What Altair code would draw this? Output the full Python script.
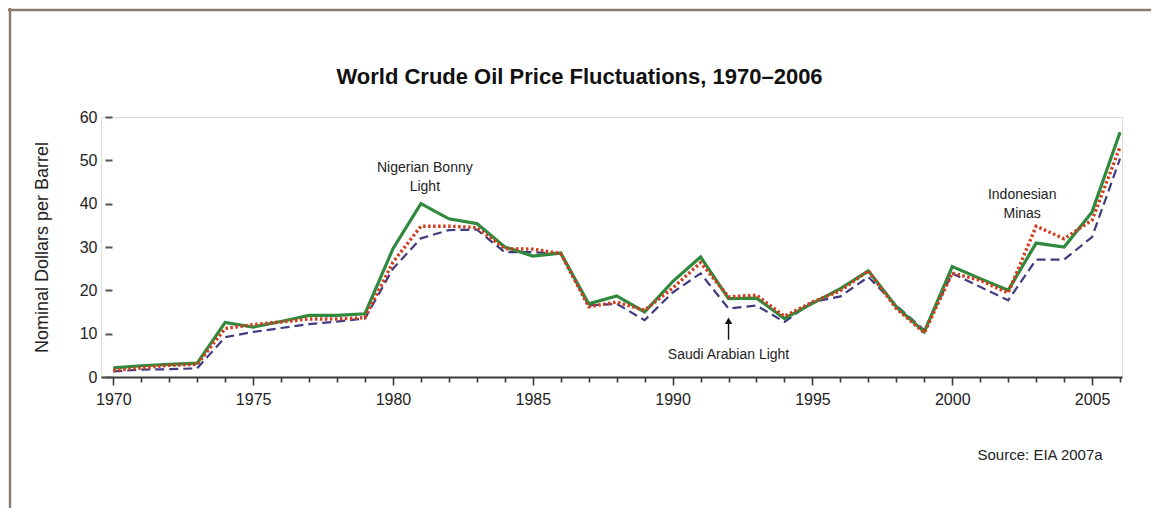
import altair as alt
import pandas as pd

years = list(range(1970, 2007))
nigerian_bonny = [2.1, 2.6, 2.9, 3.2, 12.6, 11.5, 12.8, 14.2, 14.2, 14.6,
                  29.6, 40.0, 36.5, 35.4, 30.0, 27.9, 28.6, 16.9, 18.7, 15.0,
                  22.0, 27.7, 18.1, 18.2, 13.5, 17.0, 20.4, 24.5, 16.2, 10.4,
                  25.5, 22.7, 20.0, 30.9, 30.0, 38.1, 56.5]
indonesian_minas = [1.5, 2.1, 2.7, 2.9, 11.2, 12.1, 12.7, 13.4, 13.4, 13.7,
                    26.5, 34.8, 34.8, 34.5, 29.6, 29.5, 28.5, 16.2, 17.3, 15.4,
                    20.5, 26.4, 18.5, 18.9, 14.0, 17.3, 19.9, 24.5, 15.8, 10.2,
                    24.0, 22.3, 19.4, 34.8, 31.9, 36.2, 53.1]
saudi_light = [1.3, 1.7, 1.8, 2.0, 9.2, 10.4, 11.3, 12.2, 12.8, 13.5,
               25.0, 32.0, 33.9, 34.0, 28.8, 28.8, 28.5, 16.5, 16.9, 13.1,
               19.5, 23.9, 15.8, 16.5, 12.7, 17.3, 18.6, 23.1, 16.5, 10.8,
               23.9, 20.8, 17.7, 27.1, 27.1, 32.3, 50.4]

title_text = ["World Crude Oil Price Fluctuations, 1970–2006"]

ann_text = ["Nigerian Bonny", "Light", "Indonesian", "Minas", "Saudi Arabian Light"]
ann_year = [1981.14, 1981.14, 2002.5, 2002.5, 1992.0]
ann_value = [48.2, 43.8, 41.9, 37.7, 5.0]

source_text = ["Source: EIA 2007a"]
source_year = [2003.14]
source_value = [-18.1]

arrow_year = [1992.0]
arrow_from = [8.6]
arrow_to = [13.0]

SANS = "Liberation Sans, Arial, Helvetica, sans-serif"

df = pd.DataFrame({
    "year": years * 3,
    "price": saudi_light + nigerian_bonny + indonesian_minas,
    "series": ["Saudi Arabian Light"] * len(years) + ["Nigerian Bonny Light"] * len(years)
              + ["Indonesian Minas"] * len(years),
})

xscale = alt.Scale(domain=[1969.56, 2006.07], nice=False, zero=False)
yscale = alt.Scale(domain=[0, 60], nice=False)

x_axis = alt.Axis(
    values=years, title=None, grid=False, labelOverlap=False,
    labelExpr="datum.value % 5 === 0 ? '' + datum.value : ''",
    tickSize={"condition": {"test": "datum.value % 5 === 0", "value": 8}, "value": 5},
    tickWidth=1.6, tickColor="#3a3a3a", domainColor="#3a3a3a", domainWidth=2,
    labelFont=SANS, labelFontSize=16, labelColor="#222222", labelPadding=6,
    labelFlush=False, labelBound=False,
)
y_axis = alt.Axis(
    values=[0, 10, 20, 30, 40, 50, 60], title="Nominal Dollars per Barrel", grid=False,
    domain=False, offset=-11, tickSize=7, tickWidth=2, tickColor="#555555",
    labelFont=SANS, labelFontSize=16, labelColor="#222222", labelPadding=8,
    labelOverlap=False,
    titleFont=SANS, titleFontSize=18, titleFontWeight="normal", titleColor="#222222",
    titleX=-65, titleY=130, titleAngle=270, titleBaseline="alphabetic", titleAlign="center",
)

def X(field):
    return alt.X(field, type="quantitative", scale=xscale, axis=x_axis)

def Y(field):
    return alt.Y(field, type="quantitative", scale=yscale, axis=y_axis)

base = alt.Chart(df)

def series_line(name, color, width, dash):
    kw = dict(color=color, strokeWidth=width, strokeJoin="miter")
    if dash:
        kw["strokeDash"] = dash
    return base.transform_filter(alt.datum.series == name).mark_line(**kw).encode(
        x=X("year"), y=Y("price"))

saudi = series_line("Saudi Arabian Light", "#3e3b82", 2.2, [9, 5])
nigeria = series_line("Nigerian Bonny Light", "#2f8a3e", 3.2, None)
indo = series_line("Indonesian Minas", "#d23c1e", 3.4, [2.5, 2.5])

ann_df = pd.DataFrame({"text": ann_text, "year": ann_year, "price": ann_value})
ann = alt.Chart(ann_df).mark_text(font=SANS, fontSize=14, color="#222222",
                                  align="center", baseline="middle").encode(
    x=X("year"), y=Y("price"), text="text:N")

src_df = pd.DataFrame({"text": source_text, "year": source_year, "price": source_value})
src = alt.Chart(src_df).mark_text(font=SANS, fontSize=15, color="#222222",
                                  align="center", baseline="middle").encode(
    x=X("year"), y=Y("price"), text="text:N")

arr_df = pd.DataFrame({"year": arrow_year, "price": arrow_from, "price_end": arrow_to})
arrow_shaft = alt.Chart(arr_df).mark_rule(color="#111111", strokeWidth=1.4).encode(
    x=X("year"), y=Y("price"), y2="price_end:Q")
arrow_head = alt.Chart(arr_df).mark_point(shape="triangle-up", filled=True, size=55,
                                          color="#111111", opacity=1).encode(
    x=X("year"), y=Y("price_end"))

title_df = pd.DataFrame({"text": title_text})
title = alt.Chart(title_df).mark_text(font=SANS, fontSize=22, fontWeight="bold",
                                      color="#111111", align="center",
                                      baseline="middle").encode(
    x=alt.value(478.5), y=alt.value(-40), text="text:N")

frame_df = pd.DataFrame({"a": [0]})
frame_top = alt.Chart(frame_df).mark_rule(color="#8a7b72", strokeWidth=2.5).encode(
    x=alt.value(-93), x2=alt.value(1070), y=alt.value(-107))
frame_left = alt.Chart(frame_df).mark_rule(color="#8a7b72", strokeWidth=2.5).encode(
    x=alt.value(-91), y=alt.value(-109), y2=alt.value(391))

chart = alt.layer(
    frame_top, frame_left, title, saudi, nigeria, indo, ann, src, arrow_shaft, arrow_head
).properties(
    width=1021, height=260,
    autosize=alt.AutoSizeParams(type="none"),
    padding={"left": 93, "top": 109, "right": 29, "bottom": 131},
).configure_view(strokeWidth=0, stroke="transparent").configure(background="white")

chart.save("out.html", embed_options={"renderer": "svg", "actions": False})
